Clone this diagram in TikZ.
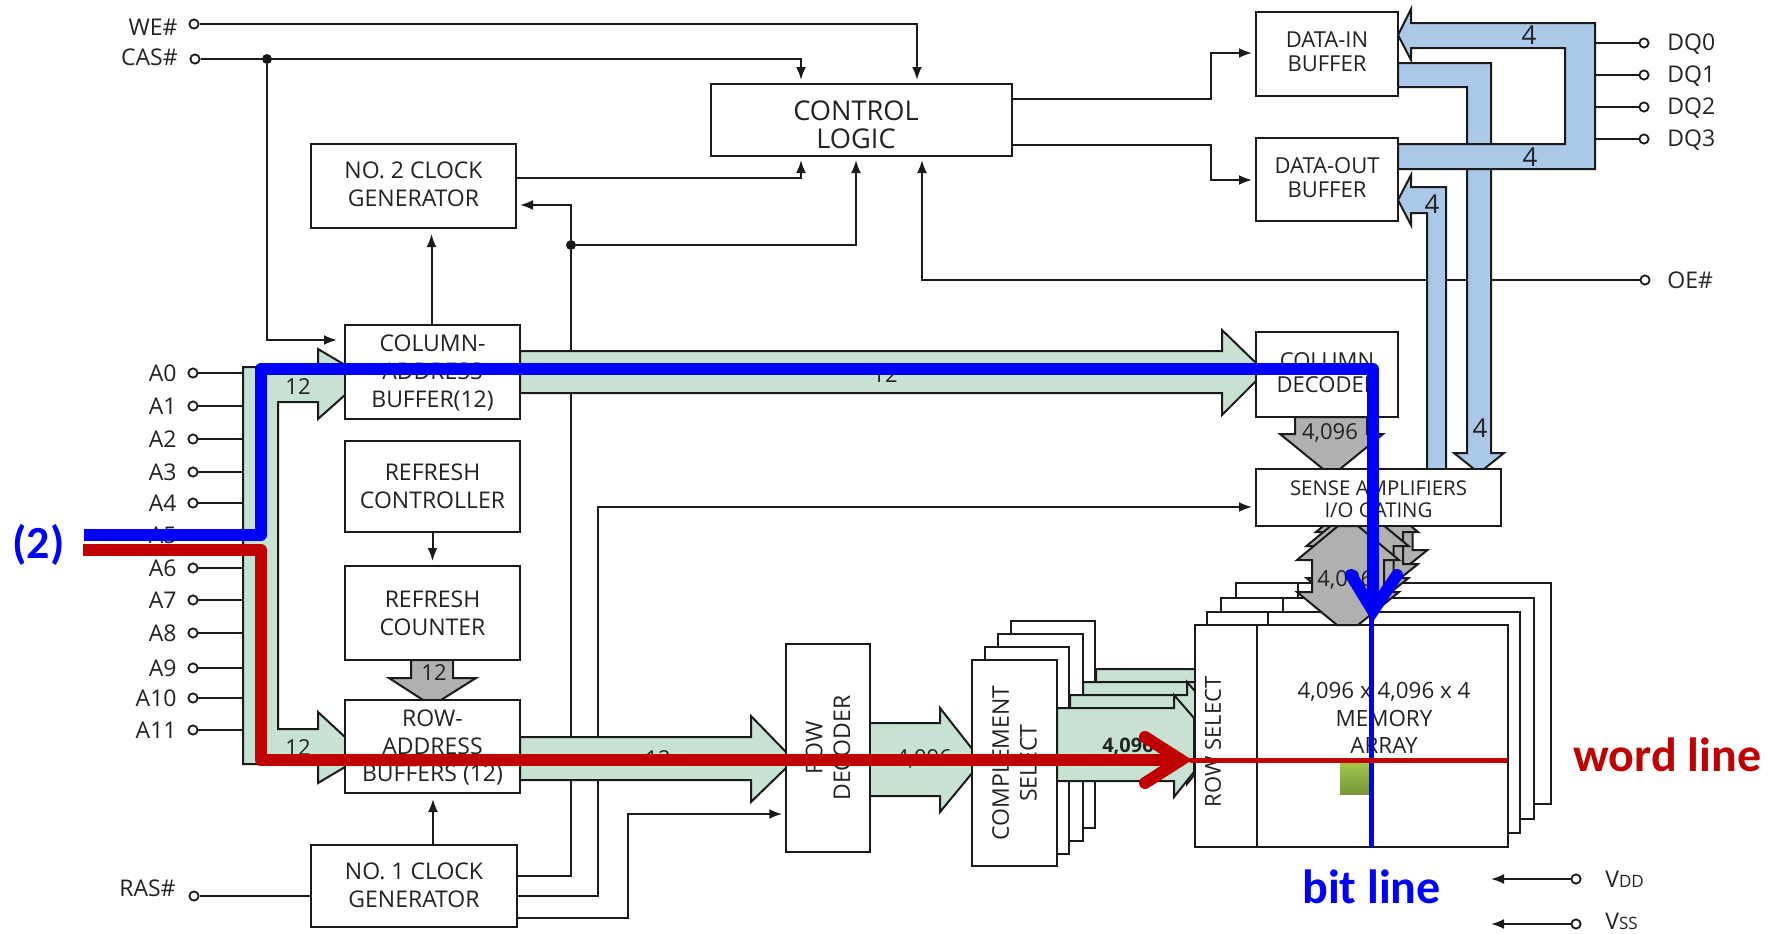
\documentclass[tikz,border=0pt]{standalone}
\usepackage{fontspec}
\setmainfont{Open Sans}
\newfontfamily\cali{Carlito}
\usetikzlibrary{arrows.meta}
\pgfdeclarelayer{back}
\pgfdeclarelayer{mid}
\pgfsetlayers{back,mid,main}
\definecolor{ink}{HTML}{1A1A1A}
\definecolor{txt}{HTML}{222222}
\definecolor{gbus}{HTML}{C7E1D3}
\definecolor{bbus}{HTML}{ABC8E8}
\definecolor{grey}{HTML}{B0B0B0}
\definecolor{redl}{HTML}{C00000}
\definecolor{bluel}{HTML}{0000FF}
\definecolor{celltop}{HTML}{A0C848}
\definecolor{cellbot}{HTML}{78963A}
\newcommand{\up}[2]{\raisebox{#1}[\height][\depth]{#2}}
\tikzset{
  dbox/.style={draw=ink,fill=white,line width=1pt,inner sep=0pt,align=center,text=txt},
  f23/.style={font=\fontsize{11.5}{13.8}\selectfont},
  fdata/.style={font=\fontsize{11}{11.8}\selectfont},
  fsense/.style={font=\fontsize{10.2}{11}\selectfont},
  fctrl/.style={font=\fontsize{13.6}{14}\selectfont},
  wire/.style={draw=ink,line width=1pt},
  arw/.style={wire,-{Latex[length=6.5pt,width=5pt]},shorten >=1.5pt},
  pinc/.style={circle,draw=ink,fill=white,line width=0.9pt,minimum size=4.6pt,inner sep=0pt},
  pintxt/.style={inner sep=0pt,text=txt,font=\fontsize{11.5}{13.8}\selectfont},
  jdot/.style={circle,fill=ink,minimum size=5pt,inner sep=0pt},
  gbusd/.style={draw=ink,fill=gbus,line width=1pt},
  bbusd/.style={draw=ink,fill=bbus,line width=1pt},
  gyd/.style={draw=ink,fill=grey,line width=1pt},
  nlab/.style={inner sep=0pt,text=txt,font=\fontsize{11}{13}\selectfont},
  nbig/.style={inner sep=0pt,text=txt,font=\fontsize{13}{15}\selectfont},
  path thick blue/.style={draw=bluel,line width=6pt,line join=round},
  path thick red/.style={draw=redl,line width=6pt,line join=round},
  ann/.style={inner sep=0pt,font=\cali\bfseries\fontsize{24}{28}\selectfont},
  memr/.style={draw=ink,fill=white,line width=1pt},
}
\newcommand{\grayDbl}{\draw[gyd] (1338,526) -- (1297,560) -- (1312,560) -- (1312,592) -- (1297,592) -- (1337,625) -- (1358,625) -- (1399,592) -- (1384,592) -- (1384,560) -- (1399,560) -- (1358,526) -- cycle;}
\newcommand{\greenOut}{\draw[gbusd] (1057,708) -- (1174,708) -- (1174,695) -- (1194,718) -- (1194,772) -- (1174,797) -- (1174,781) -- (1057,781) -- cycle;}
\begin{document}
\begin{tikzpicture}[x=0.5pt,y=-0.5pt]
\useasboundingbox (0,0) rectangle (1769,933);
\begin{pgfonlayer}{back}
\fill[white] (0,0) rectangle (1769,933);
\end{pgfonlayer}

% ---- main blocks
\node[dbox,fdata,minimum width=71pt,minimum height=42pt] (datain) at (1327,54) {\up{1.1pt}{DATA-IN}\\\up{1.1pt}{BUFFER}};
\node[dbox,fdata,minimum width=71pt,minimum height=41.5pt] (dataout) at (1327,179.5) {\up{1pt}{DATA-OUT}\\\up{1pt}{BUFFER}};
\node[dbox,fctrl,minimum width=150.5pt,minimum height=36pt] (ctrl) at (861,120) {\up{-2.2pt}{CONTROL}\kern5pt\\\up{-2.2pt}{LOGIC}\kern5pt};
\node[dbox,f23,minimum width=102.5pt,minimum height=42pt] (clock2) at (413.5,186) {\up{0.8pt}{NO. 2 CLOCK}\\\up{0.8pt}{GENERATOR}};
\node[dbox,f23,minimum width=87.5pt,minimum height=47pt] (colbuf) at (432.5,372) {\up{-0.5pt}{COLUMN-}\\\up{-0.5pt}{ADDRESS}\\\up{-0.5pt}{BUFFER(12)}};
\node[dbox,f23,minimum width=87.5pt,minimum height=45.5pt] (refctrl) at (432.5,486.5) {REFRESH\\CONTROLLER};
\node[dbox,f23,minimum width=87.5pt,minimum height=47pt] (refcnt) at (432.5,613) {REFRESH\\COUNTER};
\node[dbox,f23,minimum width=103pt,minimum height=41pt] (clock1) at (414,886) {\up{0.5pt}{NO. 1 CLOCK}\\\up{0.5pt}{GENERATOR}};
\node[dbox,f23,rotate=90,minimum width=104pt,minimum height=41.75pt] (rowdec) at (828,748) {ROW\\DECODER};

% ---- gray arrows to neighbours
\draw[gyd] (1295,417) -- (1295,434) -- (1280,434) -- (1323,469) -- (1340,469) -- (1383,434) -- (1367,434) -- (1367,417) -- cycle;
\draw[gyd] (411,660) -- (411,678) -- (389,678) -- (423,700) -- (441,700) -- (476,678) -- (453,678) -- (453,660) -- cycle;
\node[dbox,fdata,minimum width=71pt,minimum height=42.5pt] (coldec) at (1327,374.5) {\up{1pt}{COLUMN}\\\up{1pt}{DECODER}};
\node[dbox,f23,minimum width=87.5pt,minimum height=46.5pt] (rowbuf) at (432.5,746.5) {\up{-0.5pt}{ROW-}\\\up{-0.5pt}{ADDRESS}\\\up{-0.5pt}{BUFFERS (12)}};

% ---- complement select stack with its output arrows
\begin{scope}[shift={(39,-39)}]\greenOut\end{scope}
\node[dbox,minimum width=42pt,minimum height=103.5pt] (comp4) at (1053,724.5) {};
\begin{scope}[shift={(26,-26)}]\greenOut\end{scope}
\node[dbox,minimum width=42.25pt,minimum height=103.5pt] (comp3) at (1040.25,737.5) {};
\begin{scope}[shift={(13,-13)}]\greenOut\end{scope}
\node[dbox,minimum width=42pt,minimum height=103.5pt] (comp2) at (1027,750.5) {};
\greenOut
\node[dbox,f23,rotate=90,minimum width=103pt,minimum height=42.5pt] (comp) at (1014.5,763) {COMPLEMENT\\SELECT};

% ---- memory array stack
\draw[memr] (1236,583) rectangle (1551,804); \draw[wire] (1298,583) -- (1298,598);
\begin{scope}[shift={(28.5,-42)}]\grayDbl\end{scope}
\draw[memr] (1221,598) rectangle (1534,819); \draw[wire] (1283,598) -- (1283,612);
\begin{scope}[shift={(19,-28)}]\grayDbl\end{scope}
\draw[memr] (1207,612) rectangle (1520,833); \draw[wire] (1268,612) -- (1268,625);
\begin{scope}[shift={(9.5,-14)}]\grayDbl\end{scope}
\draw[memr] (1195,625) rectangle (1508,847);
\draw[wire] (1256.5,625) -- (1256.5,847);
\grayDbl
\node[inner sep=0pt,text=txt,rotate=90,font=\fontsize{11}{13}\selectfont] (rowsel) at (1213,742) {ROW SELECT};
\node[inner sep=0pt,text=txt,align=center,font=\fontsize{11.2}{13.7}\selectfont] (memtxt) at (1384,718) {4,096 x 4,096 x 4\\MEMORY\\ARRAY};
\node[dbox,fsense,minimum width=122.5pt,minimum height=28.5pt] (sense) at (1378.5,497.5) {\up{-1pt}{SENSE AMPLIFIERS}\\\up{-1pt}{I/O GATING}};
\node[nlab,anchor=west] (n4096d) at (1317,580) {4,096};

% ---- pins
\node[pinc] (we) at (194,24) {};
\node[pinc] (cas) at (195,59) {};
\node[pinc] (ras) at (194,896) {};
\node[pintxt,anchor=east] (lwe) at (178,27) {WE\#};
\node[pintxt,anchor=east] (lcas) at (178,57) {CAS\#};
\node[pintxt,anchor=east] (lras) at (176,888) {RAS\#};
\node[jdot] (jcas) at (267,59) {};
\node[jdot] (jclk) at (571,245) {};
\foreach \n/\y in {0/373,1/406,2/439,3/472,4/503,5/535,6/568,7/600,8/633,9/668,10/698,11/730}{
  \node[pintxt,anchor=east] (la\n) at (177,\y) {A\n};
  \begin{pgfonlayer}{back}
    \coordinate (ae\n) at (243,\y);
    \draw[wire] (193,\y) -- (ae\n);
  \end{pgfonlayer}
  \node[pinc] (a\n) at (193,\y) {};
}
\foreach \n/\y in {0/43,1/75,2/107,3/139}{
  \node[pintxt,anchor=west] (ldq\n) at (1667,\y+1) {DQ\n};
  \begin{pgfonlayer}{back}
    \coordinate (qe\n) at (1595,\y);
    \draw[wire] (1644,\y) -- (qe\n);
  \end{pgfonlayer}
  \node[pinc] (dq\n) at (1644,\y) {};
}
\node[pinc] (oe) at (1645,280) {};
\node[pintxt,anchor=west] (loe) at (1667,280) {OE\#};
\node[pinc] (vdd) at (1576,879) {};
\node[pinc] (vss) at (1576,924) {};
\coordinate (vddend) at (1491,879);
\coordinate (vssend) at (1491,924);
\node[pintxt,anchor=west] (lvdd) at (1605,879) {V{\fontsize{8.5}{10}\selectfont DD}};
\node[pintxt,anchor=west] (lvss) at (1605,921) {V{\fontsize{8.5}{10}\selectfont SS}};

% ---- thin wires
\begin{pgfonlayer}{back}
\draw[arw] (we) -| (ctrl.north -| 917,0);
\draw[arw] (cas) -| (ctrl.north -| 801,0);
\draw[arw,shorten >=3.5pt] (jcas) |- (colbuf.west |- 0,340);
\draw[arw] (clock2.east |- 0,178) -| (ctrl.south -| 801,0);
\draw[wire] (clock1.east |- 0,876) -| (jclk);
\draw[arw] (jclk) |- (clock2.east |- 0,205);
\draw[arw] (jclk) -| (ctrl.south -| 856,0);
\draw[arw] (clock1.east |- 0,896) -- (598,896) -- (598,507) -- (sense.west |- 0,507);
\draw[arw] (clock1.east |- 0,918) -- (628,918) -- (628,814) -- (rowdec.north |- 0,814);
\draw[arw,shorten >=2.5pt] (clock1.north -| 433,0) -- (rowbuf.south -| 433,0);
\draw[wire] (ras) -- (clock1.west |- ras);
\draw[arw,shorten >=2.5pt] (colbuf.north -| 431.5,0) -- (clock2.south -| 431.5,0);
\draw[arw,shorten >=2pt] (refctrl) -- (refcnt);
\draw[arw] (ctrl.east |- 0,98.7) -- (1211,98.7) -- (1211,53) -- (datain.west |- 0,53);
\draw[arw] (ctrl.east |- 0,144.7) -- (1211,144.7) -- (1211,180) -- (dataout.west |- 0,180);
\draw[arw] (oe) -| (ctrl.south -| 922,0);
\draw[arw,shorten >=0pt] (vdd) -- (vddend);
\draw[arw,shorten >=0pt] (vss) -- (vssend);
\end{pgfonlayer}

% ---- wide buses
\begin{pgfonlayer}{mid}
\draw[bbusd] (1398,63) -- (1491,63) -- (1491,453) -- (1504,453) -- (1484,469) -- (1474,469) -- (1454,453) -- (1467,453) -- (1467,87) -- (1398,87) -- cycle;
\draw[bbusd] (1398,35) -- (1411,9) -- (1411,23) -- (1595,23) -- (1595,169) -- (1398,169) -- (1398,144) -- (1565,144) -- (1565,48) -- (1411,48) -- (1411,60) -- cycle;
\draw[bbusd] (1398,200) -- (1411,175) -- (1411,187) -- (1446,187) -- (1446,469) -- (1427,469) -- (1427,213) -- (1411,213) -- (1411,225) -- cycle;
\draw[gbusd] (243,367) -- (318,367) -- (318,349) -- (345,365) -- (345,395) -- (318,419) -- (318,402) -- (278,402) -- (278,729) -- (318,729) -- (318,712) -- (345,737) -- (345,767) -- (318,783) -- (318,764) -- (243,764) -- cycle;
\draw[gbusd] (520,351) -- (1222,351) -- (1222,330) -- (1256,363) -- (1256,381) -- (1222,415) -- (1222,393) -- (520,393) -- cycle;
\draw[gbusd] (520,737) -- (751,737) -- (751,716) -- (786,752) -- (786,768) -- (751,802) -- (751,780) -- (520,780) -- cycle;
\draw[gbusd] (869.5,723) -- (940,723) -- (940,708) -- (973,750) -- (973,772) -- (940,812) -- (940,796) -- (869.5,796) -- cycle;
\end{pgfonlayer}

% ---- bus labels
\node[nbig] (n4a) at (1529,35) {4};
\node[nbig] (n4b) at (1530,157) {4};
\node[nbig] (n4c) at (1432,204) {4};
\node[nbig] (n4d) at (1480,428) {4};
\node[nlab] (n4096a) at (1330,433) {4,096};
\node[nlab] (n12a) at (434,673) {12};
\node[nlab] (n12b) at (298,387) {12};
\node[nlab] (n12c) at (298,748) {12};
\node[nlab] (n12d) at (885,375) {12};
\node[nlab] (n12e) at (658,759) {12};
\node[nlab] (n4096b) at (924,759) {4,096};
\node[nlab,font=\bfseries\fontsize{10}{12}\selectfont] (n4096c) at (1128,747) {4,096};

% ---- green cell
\fill[top color=celltop,bottom color=cellbot] (1340,762) rectangle (1370,794);

% ---- overlay lines
\coordinate (bs) at (84,535);
\coordinate (rs) at (82.5,550);
\draw[path thick blue] (bs) -- (261,535) -- (261,369) -- (1373,369) -- (1373,611);
\draw[path thick blue,line cap=round,line join=miter] (1351,575) -- (1373,611) -- (1397,575);
\draw[draw=bluel,line width=2.5pt] (1371.5,615) -- (1371.5,847);
\draw[path thick red] (rs) -- (261,550) -- (261,760) -- (1181,760);
\draw[path thick red,line cap=round,line join=miter] (1145,737) -- (1181,760) -- (1145,783);
\draw[draw=redl,line width=2.5pt] (1190,760) -- (1508,760);

\node[ann,text=bluel,font=\cali\bfseries\fontsize{23}{27}\selectfont] (two) at (38.5,545) {(2)};
\node[ann,text=redl,anchor=west] (wl) at (1573,755) {word line};
\node[ann,text=bluel] (bl) at (1371.5,887) {bit line};
\end{tikzpicture}
\end{document}
